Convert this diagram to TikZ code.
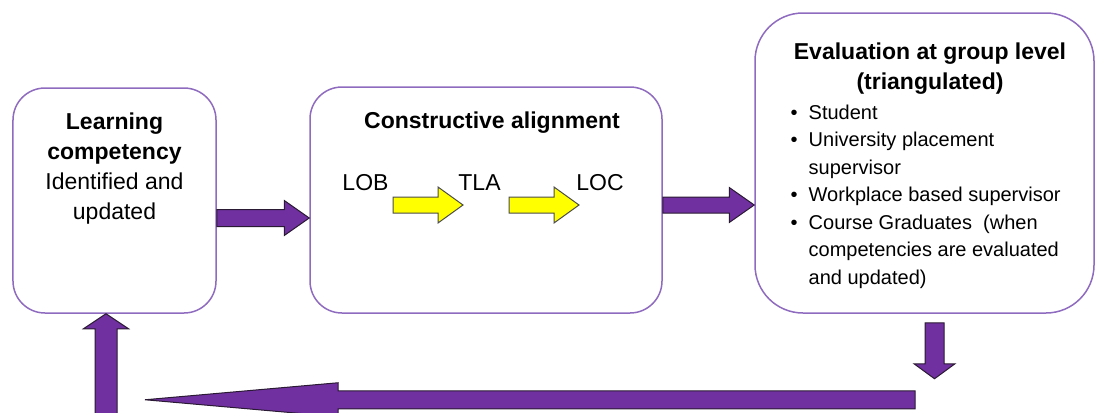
\documentclass[tikz,border=0pt]{standalone}
\usepackage{fontspec}
\setmainfont{Liberation Sans}
\usetikzlibrary{calc}

\definecolor{boxline}{HTML}{8E6BBF}
\definecolor{flow}{HTML}{7030A0}
\definecolor{flowedge}{HTML}{2A1A33}
\definecolor{stepfill}{HTML}{FFFF00}

% block arrow: style, start, tip, shaft half-width, head half-width, head length
\newcommand\blockarrow[6]{%
  \path ($(#3)!#6!(#2)$) coordinate (ba-h);
  \draw[#1] ($(#2)!#4!90:(#3)$) -- ($(ba-h)!#4!-90:(#2)$) -- ($(ba-h)!#5!-90:(#2)$)
    -- (#3) -- ($(ba-h)!#5!90:(#2)$) -- ($(ba-h)!#4!90:(#2)$) -- ($(#2)!#4!-90:(#3)$) -- cycle;
}

\begin{document}
\begin{tikzpicture}[x=1bp,y=-1bp, line join=miter,
  box/.style={draw=boxline, line width=1.5bp, fill=white, inner sep=0pt},
  flowarrow/.style={fill=flow, draw=flowedge, line width=1bp},
  steparrow/.style={fill=stepfill, draw=black!70, line width=1bp},
  title/.style={font=\fontsize{23bp}{30bp}\selectfont\bfseries},
  body/.style={font=\fontsize{23bp}{30bp}\selectfont},
  items/.style={font=\fontsize{20bp}{27.5bp}\selectfont}]
\useasboundingbox (0,0) rectangle (1096,412);

% the three stages
\node[box, rounded corners=32bp, minimum width=203bp, minimum height=225bp] (b1) at (114.5,200.5) {};
\node[box, rounded corners=32bp, minimum width=352bp, minimum height=226bp] (b2) at (486,200) {};
\node[box, rounded corners=48bp, minimum width=339bp, minimum height=300bp] (b3) at (924.5,163) {};

% stage texts
\node[anchor=north, align=center, inner sep=0pt, body] (t1) at (114.5,112.5)
  {\textbf{Learning}\\\textbf{competency}\\Identified and\\updated};
\node[anchor=north, inner sep=0pt, title] (t2) at (492,111.5) {Constructive alignment};
\node[anchor=base, inner sep=0pt, body] (lob) at (365.5,190) {LOB};
\node[anchor=base, inner sep=0pt, body] (tla) at (479.5,190) {TLA};
\node[anchor=base, inner sep=0pt, body] (loc) at (600,190) {LOC};
\node[anchor=north, align=center, inner sep=0pt, title] (t3) at (930,42.5)
  {Evaluation at group level\\(triangulated)};
\node[anchor=north west, inner sep=0pt, items] (t3list) at (790.5,99.75)
  {\begin{tabular}{@{}l@{\hspace{11bp}}l@{}}
   \textbullet & Student\\
   \textbullet & University placement\\
               & supervisor\\
   \textbullet & Workplace based supervisor\\
   \textbullet & Course Graduates\ \ (when\\
               & competencies are evaluated\\
               & and updated)
   \end{tabular}};

% flow between the stages
\coordinate (a1s) at ($(b1.east)+(0,17.5)$);
\coordinate (a1e) at (b2.west |- a1s);
\blockarrow{flowarrow}{a1s}{a1e}{8.5bp}{17.5bp}{25bp}

\coordinate (a2s) at ($(b2.east)+(0,5)$);
\coordinate (a2e) at (b3.west |- a2s);
\blockarrow{flowarrow}{a2s}{a2e}{8bp}{17.5bp}{25bp}

\coordinate (d1s) at ($(b3.south)+(10,9)$);
\coordinate (d1e) at ($(b3.south)+(10,65)$);
\blockarrow{flowarrow}{d1s}{d1e}{9.5bp}{20.5bp}{15bp}

\coordinate (r1s) at ($(b3.south)+(-9.5,86)$);
\coordinate (r1e) at ($(b1.south)+(30.5,86)$);
\blockarrow{flowarrow}{r1s}{r1e}{9bp}{17bp}{193bp}

\coordinate (u1s) at ($(b1.south)+(-8.5,100)$);
\coordinate (u1e) at ($(b1.south)+(-8.5,0)$);
\blockarrow{flowarrow}{u1s}{u1e}{11bp}{22.5bp}{15bp}

% LOB -> TLA -> LOC
\coordinate (y1s) at ($(b2.center)+(-93,5)$);
\coordinate (y1e) at ($(b2.center)+(-23,5)$);
\blockarrow{steparrow}{y1s}{y1e}{8bp}{18bp}{25bp}
\coordinate (y2s) at ($(b2.center)+(23,5)$);
\coordinate (y2e) at ($(b2.center)+(93,5)$);
\blockarrow{steparrow}{y2s}{y2e}{8bp}{18bp}{25bp}
\end{tikzpicture}
\end{document}
